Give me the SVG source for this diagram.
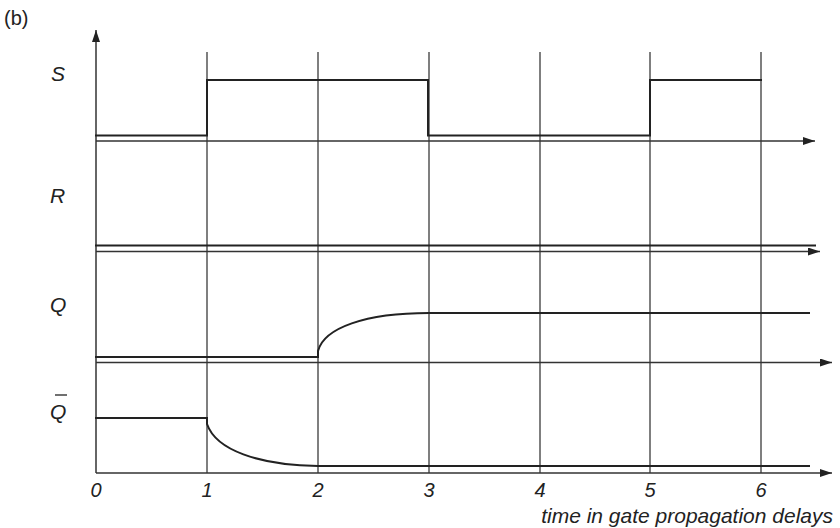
<svg xmlns="http://www.w3.org/2000/svg" width="840" height="528" viewBox="0 0 840 528">
<style>
.grid{stroke:#555;stroke-width:1.5;fill:none}
.axis{stroke:#333;stroke-width:1.5;fill:none}
.sig{stroke:#222;stroke-width:2;fill:none}
.lbl{font-family:"Liberation Sans",Arial,sans-serif;font-style:italic;font-size:21px;fill:#222}
.num{font-family:"Liberation Sans",Arial,sans-serif;font-style:italic;font-size:20px;fill:#222;text-anchor:middle}
</style>
<defs>
<marker id="ah" markerWidth="12" markerHeight="8" refX="12" refY="4" orient="auto" markerUnits="userSpaceOnUse">
<path d="M0,0 L12,4 L0,8 Z" fill="#222"/>
</marker>
</defs>
<rect width="840" height="528" fill="#fff"/>
<text x="4" y="25" font-family="'Liberation Sans',Arial,sans-serif" font-size="20" fill="#222">(b)</text>
<g id="grid">
<line class="grid" x1="207" y1="52" x2="207" y2="473"/>
<line class="grid" x1="318" y1="52" x2="318" y2="473"/>
<line class="grid" x1="429" y1="52" x2="429" y2="473"/>
<line class="grid" x1="540" y1="52" x2="540" y2="473"/>
<line class="grid" x1="650" y1="52" x2="650" y2="473"/>
<line class="grid" x1="761" y1="52" x2="761" y2="473"/>
</g>
<g id="connectors">
<line class="axis" x1="96" y1="473" x2="96" y2="30" marker-end="url(#ah)"/>
<line class="axis" x1="96" y1="141" x2="815" y2="141" marker-end="url(#ah)"/>
<line class="axis" x1="96" y1="251.5" x2="820" y2="251.5" marker-end="url(#ah)"/>
<line class="axis" x1="96" y1="362.5" x2="832" y2="362.5" marker-end="url(#ah)"/>
<line class="axis" x1="96" y1="473" x2="832" y2="473" marker-end="url(#ah)"/>
</g>
<g id="S">
<text class="lbl" x="51" y="81">S</text>
<path class="sig" d="M95,135.5 H207 V80 H428 V135.5 H650 V80 H762"/>
</g>
<g id="R">
<text class="lbl" x="50" y="203">R</text>
<path class="sig" d="M95,245.5 H816"/>
</g>
<g id="Q">
<text class="lbl" x="50" y="312">Q</text>
<path class="sig" d="M95,357 H318 V351 C324,328 365,313 429,313 H810"/>
</g>
<g id="Qbar">
<text class="lbl" x="50" y="419">Q</text>
<line x1="55" y1="395" x2="67" y2="395" stroke="#222" stroke-width="1.3"/>
<path class="sig" d="M95,418 H207 V424 C216,450 258,465 318,466 H810"/>
</g>
<g id="ticks">
<text class="num" x="96" y="497">0</text>
<text class="num" x="207" y="497">1</text>
<text class="num" x="318" y="497">2</text>
<text class="num" x="429" y="497">3</text>
<text class="num" x="540" y="497">4</text>
<text class="num" x="650" y="497">5</text>
<text class="num" x="761" y="497">6</text>
<text class="lbl" x="833" y="523" text-anchor="end">time in gate propagation delays</text>
</g>
</svg>
